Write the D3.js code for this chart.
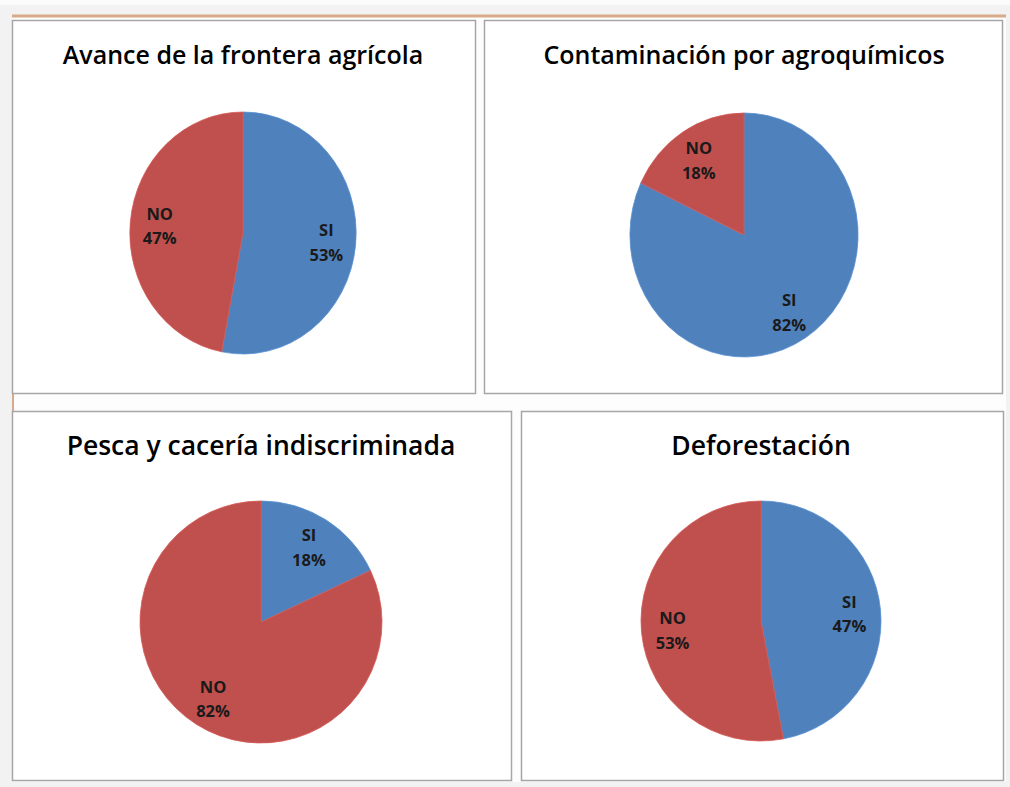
<!doctype html>
<html>
<head>
  <meta charset="utf-8">
  <title>Pie charts</title>
  <script src="https://d3js.org/d3.v7.min.js"></script>
  <style>
    body { margin: 0; background: #f2f2f2; }
    .title { font-family: "Open Sans", sans-serif; font-weight: 600; fill: #000; }
    .lbl { font-family: "Open Sans", sans-serif; font-weight: 700; font-size: 16.5px; fill: #1a1a1a; }
  </style>
</head>
<body>
<div id="chart"></div>
<script>
// data
var titles = ["Avance de la frontera agrícola", "Contaminación por agroquímicos",
              "Pesca y cacería indiscriminada", "Deforestación"];
var categories = ["SI", "NO"];
var siValues = [53, 82, 18, 47];
var noValues = [47, 18, 82, 53];

// layout of the four boxes and each pie (top pies are slightly squeezed in the original)
var boxes = [
  {x: 12, y: 20, w: 463, h: 373, cx: 243, cy: 233, r: 121, sx: 0.935, fs: 25},
  {x: 484, y: 20, w: 518, h: 373, cx: 744, cy: 235, r: 122, sx: 0.935, fs: 25},
  {x: 12, y: 411, w: 499, h: 369, cx: 261, cy: 622, r: 121, sx: 1, fs: 26.5},
  {x: 521, y: 411, w: 482, h: 369, cx: 761, cy: 621, r: 120, sx: 1, fs: 26.5}
];

var W = 1010, H = 787;
var svg = d3.select("#chart").append("svg")
  .attr("width", W).attr("height", H);

// page background
svg.append("rect").attr("x", 0).attr("y", 0).attr("width", W).attr("height", 5).attr("fill", "#fbfbfb");
svg.append("rect").attr("x", 12).attr("y", 16).attr("width", 994).attr("height", 766).attr("fill", "#fdfdfd");
svg.append("line").attr("x1", 12).attr("x2", 1006).attr("y1", 16).attr("y2", 16)
  .attr("stroke", "#d8a98a").attr("stroke-width", 3);
svg.append("line").attr("x1", 13).attr("x2", 13).attr("y1", 393).attr("y2", 411)
  .attr("stroke", "#d8a98a").attr("stroke-width", 2);

var color = d3.scaleOrdinal().domain(categories).range(["#4f81bd", "#c0504d"]);
var pie = d3.pie().sort(null).value(function(d) { return d.value; });

boxes.forEach(function(b, i) {
  var g = svg.append("g");
  g.append("rect")
    .attr("x", b.x + 0.5).attr("y", b.y + 0.5)
    .attr("width", b.w).attr("height", b.h)
    .attr("fill", "#ffffff")
    .attr("stroke", "#a6a6a6").attr("stroke-width", 1.5);

  g.append("text").attr("class", "title")
    .attr("x", b.cx).attr("y", b.y + 44)
    .attr("text-anchor", "middle")
    .style("font-size", b.fs + "px")
    .text(titles[i]);

  var data = [{cat: "SI", value: siValues[i]}, {cat: "NO", value: noValues[i]}];
  var arc = d3.arc().innerRadius(0).outerRadius(b.r);
  var labelArc = d3.arc().innerRadius(b.r * 0.74).outerRadius(b.r * 0.74);
  var slices = pie(data);

  var pg = g.append("g")
    .attr("transform", "translate(" + b.cx + "," + b.cy + ") scale(" + b.sx + ",1)");
  pg.selectAll("path").data(slices).enter().append("path")
    .attr("d", arc)
    .attr("fill", function(d) { return color(d.data.cat); })
    .attr("stroke", function(d) { return d3.color(color(d.data.cat)).brighter(0.3); })
    .attr("stroke-width", 0.8);

  // labels: not squeezed, only positioned with the squeeze
  var lg = g.append("g").attr("transform", "translate(" + b.cx + "," + b.cy + ")");
  var t = lg.selectAll("text").data(slices).enter().append("text")
    .attr("class", "lbl")
    .attr("text-anchor", "middle")
    .attr("transform", function(d) {
      var c = labelArc.centroid(d);
      return "translate(" + (c[0] * b.sx) + "," + c[1] + ")";
    });
  t.append("tspan").attr("x", 0).attr("dy", "-0.3em").text(function(d) { return d.data.cat; });
  t.append("tspan").attr("x", 0).attr("dy", "1.5em").text(function(d) { return d.data.value + "%"; });
});
</script>
</body>
</html>
